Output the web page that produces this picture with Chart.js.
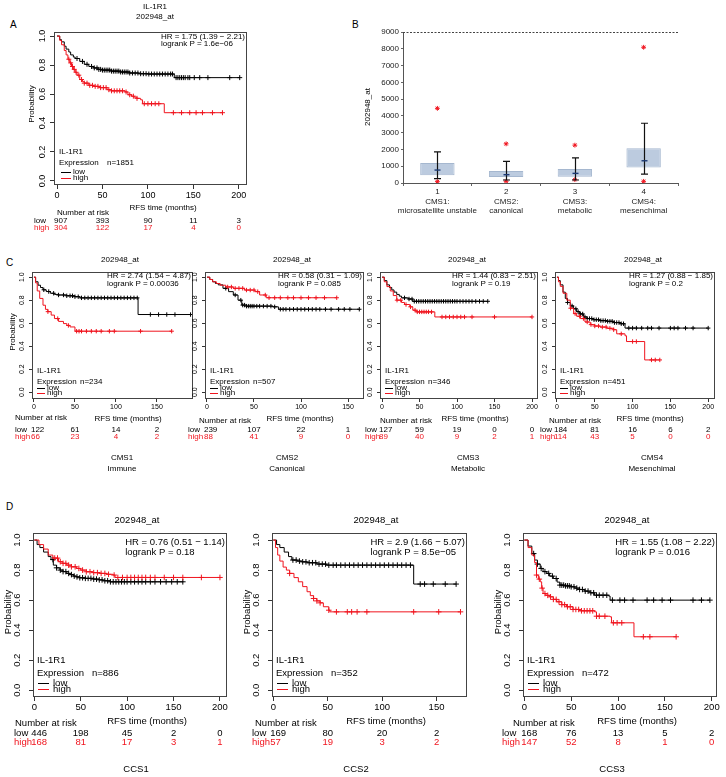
<!DOCTYPE html>
<html>
<head>
<meta charset="utf-8">
<script src="https://cdn.jsdelivr.net/npm/chart.js@4.4.1/dist/chart.umd.min.js"></script>
<style>
html, body { margin: 0; padding: 0; background: #fff; }
#page { position: relative; width: 726px; height: 777px; overflow: hidden; background: #fff; }
#page canvas { position: absolute; left: 0; top: 0; }
.lt { position: absolute; font: 10px "Liberation Sans", Arial, sans-serif; line-height: 10px; color: #000; }
</style>
</head>
<body>
<div id="page">
  <div class="lt" style="left:10px;top:20px">A</div>
  <div class="lt" style="left:352px;top:20px">B</div>
  <div class="lt" style="left:6px;top:258px">C</div>
  <div class="lt" style="left:6px;top:502px">D</div>
</div>
<script>
const W = 726, H = 777;
const FONT = '"Liberation Sans", Arial, Helvetica, sans-serif';
const RED = '#f0141e';

// shared ticks
const kmYTicks = [0, 0.2, 0.4, 0.6, 0.8, 1.0];
const riskTimes = [0, 50, 100, 150, 200];

// ---- panel A (all patients) ----
const aLowT = [0,3,5,8,10,13,15,18,20,25,30,35,40,45,50,60,70,80,90,100,129,201];
const aLowS = [1,0.975,0.96,0.93,0.91,0.89,0.87,0.855,0.845,0.825,0.805,0.79,0.78,0.77,0.765,0.758,0.752,0.745,0.74,0.738,0.713,0.713];
const aLowC = [22,28,33,38,41,44,46,48,50,52,54,56,58,60,62,64,66,68,70,72,74,76,78,80,83,86,89,92,95,98,101,104,107,110,113,116,119,122,125,127,131,133,135,137,139,141,144,146,151,157,166,190,201];
const aHighT = [0,3,5,8,10,12,14,16,18,20,22,25,28,30,35,40,47,55,60,75,78,82,85,88,92,94,118,182];
const aHighS = [1,0.97,0.94,0.9,0.87,0.84,0.815,0.79,0.77,0.75,0.73,0.7,0.685,0.675,0.66,0.653,0.644,0.63,0.622,0.614,0.595,0.585,0.578,0.57,0.56,0.533,0.471,0.471];
const aHighC = [13,15,17,19,21,24,27,30,33,36,39,42,45,48,51,54,57,60,63,66,69,72,76,80,84,88,96,100,104,108,112,128,137,146,153,160,171,182];
const aRiskLow = [907, 393, 90, 11, 3];
const aRiskHigh = [304, 122, 17, 4, 0];

// ---- panel B (boxes per CMS) ----
const bLabels = [['1','CMS1:','microsatellite unstable'], ['2','CMS2:','canonical'], ['3','CMS3:','metabolic'], ['4','CMS4:','mesenchimal']];
const bYTicks = [0,1000,2000,3000,4000,5000,6000,7000,8000,9000];
const bQ1 = [455, 356, 376, 930];
const bQ3 = [1187, 712, 831, 2077];
const bMed = [771, 494, 574, 1325];
const bWLo = [257, 178, 178, 534];
const bWHi = [1860, 1286, 1503, 3560];
const bOutHi = [4450, 2334, 2255, 8090];
const bOutLo = [80, 100, 200, 100];

// ---- panel C (CMS1..CMS4) ----
const c1LowT = [0,2,5,8,11,15,20,25,30,40,50,56,127,191];
const c1LowS = [1,0.96,0.93,0.91,0.89,0.875,0.86,0.85,0.845,0.838,0.83,0.82,0.675,0.675];
const c1LowC = [12,18,24,30,36,40,44,47,50,54,58,62,66,70,74,78,82,86,90,94,98,102,106,110,114,118,122,126,142,152,162,172,191];
const c1HighT = [0,2,4,7,11,14,17,21,25,30,36,40,44,50,168];
const c1HighS = [1,0.95,0.88,0.815,0.756,0.72,0.7,0.67,0.64,0.615,0.596,0.58,0.567,0.53,0.53];
const c1HighC = [17,29,42,52,55,58,64,70,76,82,92,98,130,168];
const c1RiskLow = [122, 61, 14, 2];
const c1RiskHigh = [66, 23, 4, 2];

const c2LowT = [0,3,6,9,12,17,23,28,33,37,42,70,76,162];
const c2LowS = [1,0.98,0.96,0.945,0.933,0.903,0.874,0.845,0.8,0.757,0.748,0.742,0.721,0.721];
const c2LowC = [20,30,36,38,40,42,44,46,48,50,53,56,60,64,68,72,78,81,84,88,92,96,100,104,108,112,116,120,126,132,140,146,152,162];
const c2HighT = [0,3,6,10,14,20,28,40,51,56,63,138];
const c2HighS = [1,0.98,0.96,0.945,0.93,0.915,0.903,0.888,0.874,0.845,0.821,0.821];
const c2HighC = [22,26,30,34,38,42,46,50,54,62,66,72,78,86,92,100,108,116,125,138];
const c2RiskLow = [239, 107, 22, 1];
const c2RiskHigh = [88, 41, 9, 0];

const c3LowT = [0,3,6.5,10,13,16,19.6,23,26,35,41,141];
const c3LowS = [1,0.97,0.933,0.91,0.889,0.87,0.85,0.835,0.82,0.81,0.79,0.79];
const c3LowC = [30,36,40,43,46,49,52,55,58,61,64,67,70,73,76,79,82,85,88,91,94,97,100,104,108,112,116,120,125,130,135,141];
const c3HighT = [0,3,6.5,11,15,19.6,26,30,37,41,45.6,70.4,200];
const c3HighS = [1,0.96,0.918,0.88,0.84,0.8,0.78,0.762,0.742,0.713,0.698,0.654,0.654];
const c3HighC = [20,25,32,38,44,47,50,53,56,59,62,66,80,85,90,95,100,105,110,120,150,200];
const c3RiskLow = [127, 59, 19, 0, 0];
const c3RiskHigh = [89, 40, 9, 2, 1];

const c4LowT = [0,2,4.4,8,11,14,17.6,22,26,30,35,40,48,56,66,75,83.5,90,200];
const c4LowS = [1,0.97,0.933,0.87,0.815,0.78,0.75,0.725,0.7,0.68,0.654,0.64,0.63,0.622,0.616,0.605,0.595,0.557,0.557];
const c4LowC = [14,20,25,28,31,34,37,40,43,46,49,52,55,58,61,64,67,70,73,76,79,82,85,88,95,100,105,112,120,125,135,150,155,160,170,180,200];
const c4HighT = [0,2,4.4,8,13,17.6,22,26,31,37,44,50,57,66,75,79,90,92,116,136];
const c4HighS = [1,0.96,0.92,0.86,0.8,0.73,0.683,0.66,0.64,0.61,0.587,0.575,0.566,0.555,0.543,0.507,0.49,0.44,0.28,0.28];
const c4HighC = [18,24,30,35,40,45,50,55,60,65,70,75,85,100,105,125,130,136];
const c4RiskLow = [184, 81, 16, 6, 2];
const c4RiskHigh = [114, 43, 5, 0, 0];

// ---- panel D (CCS1..CCS3) ----
const d1LowT = [0,3,6,10,15,18,20.5,24,27.6,31,35,38,42,45,49,55,63.6,70,74,81.5,160.5];
const d1LowS = [1,0.97,0.95,0.92,0.89,0.87,0.833,0.815,0.8,0.79,0.778,0.77,0.76,0.755,0.749,0.745,0.74,0.735,0.729,0.722,0.722];
const d1LowC = [20,24,28,31,34,37,40,43,46,49,52,55,58,61,64,67,70,73,76,79,82,85,88,91,94,97,100,104,108,112,116,120,125,130,136,142,148,154,160];
const d1HighT = [0,5,10,15,20,26,30,35,40,45.6,50,56,63,71,78,85,87,200];
const d1HighS = [1,0.97,0.94,0.9,0.88,0.856,0.845,0.833,0.822,0.811,0.8,0.789,0.783,0.778,0.772,0.767,0.751,0.751];
const d1HighC = [22,25,28,31,34,37,40,44,48,52,56,60,64,68,72,76,80,86,90,95,100,104,108,112,116,120,125,130,140,150,160,180,200];
const d1RiskLow = [446, 198, 45, 2, 0];
const d1RiskHigh = [168, 81, 17, 3, 1];

const d2LowT = [0,3,6,10,14,17,22,26,31,40,49,129,168];
const d2LowS = [1,0.97,0.95,0.92,0.89,0.867,0.86,0.855,0.849,0.84,0.833,0.707,0.707];
const d2LowC = [18,21,24,27,30,33,36,39,42,45,48,51,55,58,62,66,70,74,78,82,86,90,94,98,102,106,110,114,118,122,126,135,139,147,158,168];
const d2HighT = [0,2,4,6,9,12,15,19,23,27,31,34,37,40,43,46,51,52,172];
const d2HighS = [1,0.95,0.9,0.86,0.82,0.8,0.778,0.75,0.722,0.69,0.656,0.63,0.611,0.595,0.582,0.556,0.533,0.522,0.522];
const d2HighC = [15,37,40,43,51,58,68,72,77,86,129,152,172];
const d2RiskLow = [169, 80, 20, 2];
const d2RiskHigh = [57, 19, 3, 2];

const d3LowT = [0,4,8,11,14,17,20,24,27,31,35,38,43,49,54,59,64,70,75,90,91.5,198];
const d3LowS = [1,0.96,0.91,0.867,0.84,0.811,0.79,0.778,0.76,0.744,0.72,0.7,0.695,0.689,0.68,0.671,0.66,0.649,0.633,0.627,0.6,0.6];
const d3LowC = [10,14,18,22,26,30,34,38,40,42,44,46,48,50,53,56,59,62,65,68,71,74,77,80,84,88,94,102,107,116,131,138,147,156,180,189,198];
const d3HighT = [0,4,8,11,13,15,17,18.5,20,23,27,31,34.5,40,45,52,59,75,77,91.5,93,117,162];
const d3HighS = [1,0.95,0.9,0.85,0.767,0.74,0.722,0.68,0.644,0.632,0.622,0.605,0.589,0.57,0.556,0.538,0.529,0.522,0.493,0.489,0.449,0.356,0.356];
const d3HighC = [13,16,19,22,25,28,31,34,37,40,43,46,49,52,55,58,61,64,67,70,73,77,80,86,95,99,104,127,134,162];
const d3RiskLow = [168, 76, 13, 5, 2];
const d3RiskHigh = [147, 52, 8, 1, 0];

// KM value just after time t
function survAt(T, S, t) {
  let v = S[0];
  for (let i = 0; i < T.length; i++) if (T[i] <= t) v = S[i];
  return v;
}

function txt(ctx, s, x, y, o) {
  o = o || {};
  ctx.save();
  ctx.font = (o.size || 8) + 'px ' + FONT;
  ctx.fillStyle = o.color || '#000';
  ctx.textAlign = o.align || 'left';
  ctx.textBaseline = 'middle';
  if (o.rot) { ctx.translate(x, y); ctx.rotate(-Math.PI / 2); ctx.fillText(s, 0, 0); }
  else ctx.fillText(s, x, y);
  ctx.restore();
}

function newCanvas() {
  const cv = document.createElement('canvas');
  cv.width = W; cv.height = H;
  document.getElementById('page').appendChild(cv);
  return cv;
}

const YW = 20, XH = 20;

function kmChart(p) {
  const [l, t, r, b] = p.box;
  const decor = {
    id: 'kmDecor',
    afterDraw(chart) {
      const { ctx, chartArea: a, scales } = chart;
      const xs = scales.x, ys = scales.y;
      ctx.save();
      ctx.strokeStyle = '#444';
      ctx.lineWidth = 1;
      ctx.strokeRect(Math.round(a.left) + 0.5, Math.round(a.top) + 0.5, Math.round(a.right - a.left) - 1, Math.round(a.bottom - a.top) - 1);
      ctx.restore();
      // rotated y tick labels (R style)
      ys.ticks.forEach(tk => {
        txt(ctx, tk.value.toFixed(1), a.left - p.yLabOff, ys.getPixelForValue(tk.value), { rot: true, align: 'center', size: p.fs });
      });
      if (p.prob) txt(ctx, 'Probability', p.prob[0], p.prob[1], { rot: true, align: 'center', size: p.ft });
      p.title.forEach(s => txt(ctx, s[0], s[1], s[2], { align: 'center', size: p.ft }));
      // HR box, top right
      ctx.save();
      ctx.font = p.ft + 'px ' + FONT;
      const w1 = ctx.measureText(p.hr[0]).width;
      ctx.restore();
      const hx = a.right - 2 - w1;
      txt(ctx, p.hr[0], hx, p.hrY[0], { size: p.ft });
      txt(ctx, p.hr[1], hx, p.hrY[1], { size: p.ft });
      // legend, bottom left
      const g = p.leg;
      txt(ctx, 'IL-1R1', a.left + g.tx, g.y[0], { size: p.ft });
      txt(ctx, 'Expression', a.left + g.tx, g.y[1], { size: p.ft });
      txt(ctx, p.n, a.left + g.nx, g.y[1], { size: p.ft });
      ctx.save();
      ctx.lineWidth = 1;
      ctx.strokeStyle = '#000';
      ctx.beginPath(); ctx.moveTo(a.left + g.lx[0], g.y[2] + 0.5); ctx.lineTo(a.left + g.lx[1], g.y[2] + 0.5); ctx.stroke();
      ctx.strokeStyle = RED;
      ctx.beginPath(); ctx.moveTo(a.left + g.lx[0], g.y[3] + 0.5); ctx.lineTo(a.left + g.lx[1], g.y[3] + 0.5); ctx.stroke();
      ctx.restore();
      txt(ctx, 'low', a.left + g.lx[2], g.y[2], { size: p.ft });
      txt(ctx, 'high', a.left + g.lx[2], g.y[3], { size: p.ft });
      // axis title and number at risk table
      txt(ctx, 'RFS time (months)', p.rfs[0], p.rfs[1], { align: 'center', size: p.ft });
      txt(ctx, 'Number at risk', p.nr[0], p.nr[1], { size: p.ft });
      txt(ctx, 'low', p.rowX, p.rowY[0], { size: p.ft });
      txt(ctx, 'high', p.rowX, p.rowY[1], { size: p.ft, color: RED });
      [p.riskLow, p.riskHigh].forEach((row, k) => {
        row.forEach((v, i) => {
          const px = xs.getPixelForValue(riskTimes[i]);
          const o = { size: p.ft, color: k ? RED : '#000', align: i === 0 ? 'left' : 'center' };
          txt(ctx, String(v), i === 0 ? px - 3 : px, p.rowY[k], o);
        });
      });
      p.foot.forEach(s => txt(ctx, s[0], s[1], s[2], { align: 'center', size: p.fs2 || p.ft }));
    }
  };
  // horizontal first, then drop at the event time
  const curve = (T, S, col, ord) => ({
    data: T.map((tt, i) => ({ x: tt, y: S[i] })),
    borderColor: col, borderWidth: 1, pointRadius: 0, stepped: 'before', fill: false, order: ord
  });
  const cens = (T, S, C, col, ord) => ({
    data: C.map(tt => ({ x: tt, y: survAt(T, S, tt) })),
    showLine: false, pointStyle: 'cross', pointRadius: p.cr, pointBorderColor: col,
    pointBackgroundColor: col, pointBorderWidth: 1, borderColor: col, order: ord
  });
  const tickFont = { size: p.fs, family: FONT };
  return new Chart(newCanvas(), {
    type: 'line',
    data: {
      datasets: [
        curve(p.low[0], p.low[1], '#000', 3),
        cens(p.low[0], p.low[1], p.low[2], '#000', 2),
        curve(p.high[0], p.high[1], RED, 1),
        cens(p.high[0], p.high[1], p.high[2], RED, 0)
      ]
    },
    options: {
      responsive: false, animation: false, events: [], devicePixelRatio: 1,
      layout: { autoPadding: false, padding: { left: l - YW, top: t, right: W - r, bottom: H - b - XH } },
      plugins: { legend: { display: false }, tooltip: { enabled: false } },
      scales: {
        x: {
          type: 'linear', min: p.xr[0], max: p.xr[1],
          afterFit: s => { s.height = XH; },
          afterBuildTicks: s => { s.ticks = p.xTicks.map(v => ({ value: v })); },
          grid: { drawOnChartArea: false, drawTicks: true, tickLength: p.tl, color: '#333' },
          border: { display: false },
          ticks: { font: tickFont, color: '#000', padding: p.xpad, maxRotation: 0, autoSkip: false, callback: v => String(v) }
        },
        y: {
          type: 'linear', min: p.yr[0], max: p.yr[1],
          afterFit: s => { s.width = YW; },
          afterBuildTicks: s => { s.ticks = kmYTicks.map(v => ({ value: v })); },
          grid: { drawOnChartArea: false, drawTicks: true, tickLength: p.tl, color: '#333' },
          border: { display: false },
          ticks: { display: false }
        }
      }
    },
    plugins: [decor]
  });
}

// Panel A
kmChart({
  box: [54, 32, 247, 185], xr: [-3.3, 209], yr: [-0.028, 1.028], xTicks: [0, 50, 100, 150, 200],
  fs: 9, ft: 8, tl: 4, xpad: 1, yLabOff: 11, cr: 2.5,
  prob: [32, 104],
  title: [['IL-1R1', 155, 7], ['202948_at', 155, 17]],
  hr: ['HR = 1.75 (1.39 \u2212 2.21)', 'logrank P = 1.6e\u221206'], hrY: [37, 44],
  leg: { y: [152, 163, 172, 178], tx: 5, nx: 53, lx: [7, 17, 19] }, n: 'n=1851',
  rfs: [163, 208], nr: [57, 213], rowX: 34, rowY: [221, 228],
  riskLow: aRiskLow, riskHigh: aRiskHigh, foot: [],
  low: [aLowT, aLowS, aLowC], high: [aHighT, aHighS, aHighC]
});

// Panel C
const cCommon = { yr: [-0.06, 1.045], fs: 7, ft: 8, tl: 3, xpad: 1, yLabOff: 10, cr: 2.2,
  hrY: [276, 284], leg: { y: [371, 382, 388, 393], tx: 5, nx: 48, lx: [5, 13, 15] }, rowY: [430, 437] };
kmChart(Object.assign({}, cCommon, {
  box: [32, 272, 193, 399], xr: [-2.4, 194], xTicks: [0, 50, 100, 150],
  prob: [13, 332], title: [['202948_at', 120, 260]],
  hr: ['HR = 2.74 (1.54 \u2212 4.87)', 'logrank P = 0.00036'], n: 'n=234',
  rfs: [128, 419], nr: [15, 418], rowX: 15,
  riskLow: c1RiskLow, riskHigh: c1RiskHigh,
  foot: [['CMS1', 122, 458], ['Immune', 122, 469]],
  low: [c1LowT, c1LowS, c1LowC], high: [c1HighT, c1HighS, c1HighC]
}));
kmChart(Object.assign({}, cCommon, {
  box: [205, 272, 364, 399], xr: [-2.1, 167], xTicks: [0, 50, 100, 150],
  prob: null, title: [['202948_at', 292, 260]],
  hr: ['HR = 0.58 (0.31 \u2212 1.09)', 'logrank P = 0.085'], n: 'n=507',
  rfs: [300, 419], nr: [199, 421], rowX: 188,
  riskLow: c2RiskLow, riskHigh: c2RiskHigh,
  foot: [['CMS2', 287, 458], ['Canonical', 287, 469]],
  low: [c2LowT, c2LowS, c2LowC], high: [c2HighT, c2HighS, c2HighC]
}));
kmChart(Object.assign({}, cCommon, {
  box: [380, 272, 538, 399], xr: [-2.7, 208], xTicks: [0, 50, 100, 150, 200],
  prob: null, title: [['202948_at', 467, 260]],
  hr: ['HR = 1.44 (0.83 \u2212 2.51)', 'logrank P = 0.19'], n: 'n=346',
  rfs: [475, 419], nr: [380, 421], rowX: 365,
  riskLow: c3RiskLow, riskHigh: c3RiskHigh,
  foot: [['CMS3', 468, 458], ['Metabolic', 468, 469]],
  low: [c3LowT, c3LowS, c3LowC], high: [c3HighT, c3HighS, c3HighC]
}));
kmChart(Object.assign({}, cCommon, {
  box: [555, 272, 715, 399], xr: [-2.6, 209], xTicks: [0, 50, 100, 150, 200],
  prob: null, title: [['202948_at', 643, 260]],
  hr: ['HR = 1.27 (0.88 \u2212 1.85)', 'logrank P = 0.2'], n: 'n=451',
  rfs: [650, 419], nr: [549, 421], rowX: 540,
  riskLow: c4RiskLow, riskHigh: c4RiskHigh,
  foot: [['CMS4', 652, 458], ['Mesenchimal', 652, 469]],
  low: [c4LowT, c4LowS, c4LowC], high: [c4HighT, c4HighS, c4HighC]
}));

// Panel D
const dCommon = { yr: [-0.045, 1.047], fs: 9.5, ft: 9.5, tl: 4, xpad: 1, yLabOff: 16, cr: 2.8,
  hrY: [542, 552], leg: { y: [660, 673, 683, 689], tx: 4, nx: 59, lx: [5, 16, 20] }, rowY: [733, 742] };
kmChart(Object.assign({}, dCommon, {
  box: [33, 533, 227, 697], xr: [-1.4, 207.6], xTicks: [0, 50, 100, 150, 200],
  prob: [8, 612], title: [['202948_at', 137, 520]],
  hr: ['HR = 0.76 (0.51 \u2212 1.14)', 'logrank P = 0.18'], n: 'n=886',
  rfs: [147, 721], nr: [15, 723], rowX: 14,
  riskLow: d1RiskLow, riskHigh: d1RiskHigh,
  foot: [['CCS1', 136, 769]],
  low: [d1LowT, d1LowS, d1LowC], high: [d1HighT, d1HighS, d1HighC]
}));
kmChart(Object.assign({}, dCommon, {
  box: [272, 533, 467, 697], xr: [-1.2, 178], xTicks: [0, 50, 100, 150],
  prob: [247, 612], title: [['202948_at', 376, 520]],
  hr: ['HR = 2.9 (1.66 \u2212 5.07)', 'logrank P = 8.5e\u221205'], n: 'n=352',
  rfs: [386, 721], nr: [255, 723], rowX: 252,
  riskLow: d2RiskLow, riskHigh: d2RiskHigh,
  foot: [['CCS2', 356, 769]],
  low: [d2LowT, d2LowS, d2LowC], high: [d2HighT, d2HighS, d2HighC]
}));
kmChart(Object.assign({}, dCommon, {
  box: [523, 533, 717, 697], xr: [-1.4, 205.6], xTicks: [0, 50, 100, 150, 200],
  prob: [498, 612], title: [['202948_at', 627, 520]],
  hr: ['HR = 1.55 (1.08 \u2212 2.22)', 'logrank P = 0.016'], n: 'n=472',
  rfs: [637, 721], nr: [513, 723], rowX: 502,
  riskLow: d3RiskLow, riskHigh: d3RiskHigh,
  foot: [['CCS3', 612, 769]],
  low: [d3LowT, d3LowS, d3LowC], high: [d3HighT, d3HighS, d3HighC]
}));

// Panel B: expression by CMS group
const bBox = [403, 32, 678, 183];
const bDecor = {
  id: 'bDecor',
  afterDatasetsDraw(chart) {
    const { ctx, scales: { x, y } } = chart;
    ctx.save();
    bWLo.forEach((lo, i) => {
      const cx = Math.round(x.getPixelForValue(i)) + 0.5;
      const y0 = y.getPixelForValue(lo), y1 = y.getPixelForValue(bWHi[i]);
      ctx.strokeStyle = '#111'; ctx.lineWidth = 1.2;
      ctx.beginPath();
      ctx.moveTo(cx, y0); ctx.lineTo(cx, y1);
      ctx.moveTo(cx - 3.5, y0); ctx.lineTo(cx + 3.5, y0);
      ctx.moveTo(cx - 3.5, y1); ctx.lineTo(cx + 3.5, y1);
      ctx.stroke();
      const ym = y.getPixelForValue(bMed[i]);
      ctx.strokeStyle = '#1d3a74'; ctx.lineWidth = 1.4;
      ctx.beginPath(); ctx.moveTo(cx - 3, ym); ctx.lineTo(cx + 3, ym); ctx.stroke();
    });
    ctx.restore();
  },
  afterDraw(chart) {
    const { ctx, chartArea: a } = chart;
    ctx.save();
    ctx.strokeStyle = '#444'; ctx.lineWidth = 1; ctx.setLineDash([2, 1.5]);
    ctx.beginPath(); ctx.moveTo(a.left, Math.round(a.top) + 0.5); ctx.lineTo(a.right, Math.round(a.top) + 0.5); ctx.stroke();
    ctx.restore();
    txt(ctx, '202948_at', 368, 107, { rot: true, align: 'center', size: 8 });
  }
};
new Chart(newCanvas(), {
  type: 'bar',
  data: {
    labels: bLabels,
    datasets: [
      { data: bQ1.map((q, i) => [q, bQ3[i]]), backgroundColor: '#bccbdf', borderColor: '#a5b7cf', borderWidth: 1,
        borderSkipped: false, barPercentage: 0.5, categoryPercentage: 1, order: 2 },
      { type: 'line', data: bOutHi, showLine: false, pointStyle: 'star', pointRadius: 2.4,
        pointBorderColor: RED, pointBackgroundColor: RED, pointBorderWidth: 1, order: 0 },
      { type: 'line', data: bOutLo, showLine: false, pointStyle: 'star', pointRadius: 2.4,
        pointBorderColor: RED, pointBackgroundColor: RED, pointBorderWidth: 1, order: 0 }
    ]
  },
  options: {
    responsive: false, animation: false, events: [], devicePixelRatio: 1,
    layout: { autoPadding: false, padding: { left: bBox[0] - 40, top: bBox[1], right: W - bBox[2], bottom: H - bBox[3] - 40 } },
    plugins: { legend: { display: false }, tooltip: { enabled: false } },
    scales: {
      x: {
        afterFit: s => { s.height = 40; },
        grid: { offset: true, drawOnChartArea: false, tickLength: 3, color: '#666' },
        border: { color: '#555' },
        ticks: { font: { size: 8, family: FONT, lineHeight: 1.2 }, color: '#222', padding: 1, maxRotation: 0, autoSkip: false }
      },
      y: {
        min: 0, max: 9000,
        afterFit: s => { s.width = 40; },
        afterBuildTicks: s => { s.ticks = bYTicks.map(v => ({ value: v })); },
        grid: { drawOnChartArea: false, tickLength: 2, color: '#666' },
        border: { color: '#555' },
        ticks: { font: { size: 8, family: FONT }, color: '#222', padding: 2, callback: v => String(v) }
      }
    }
  },
  plugins: [bDecor]
});
</script>
</body>
</html>
